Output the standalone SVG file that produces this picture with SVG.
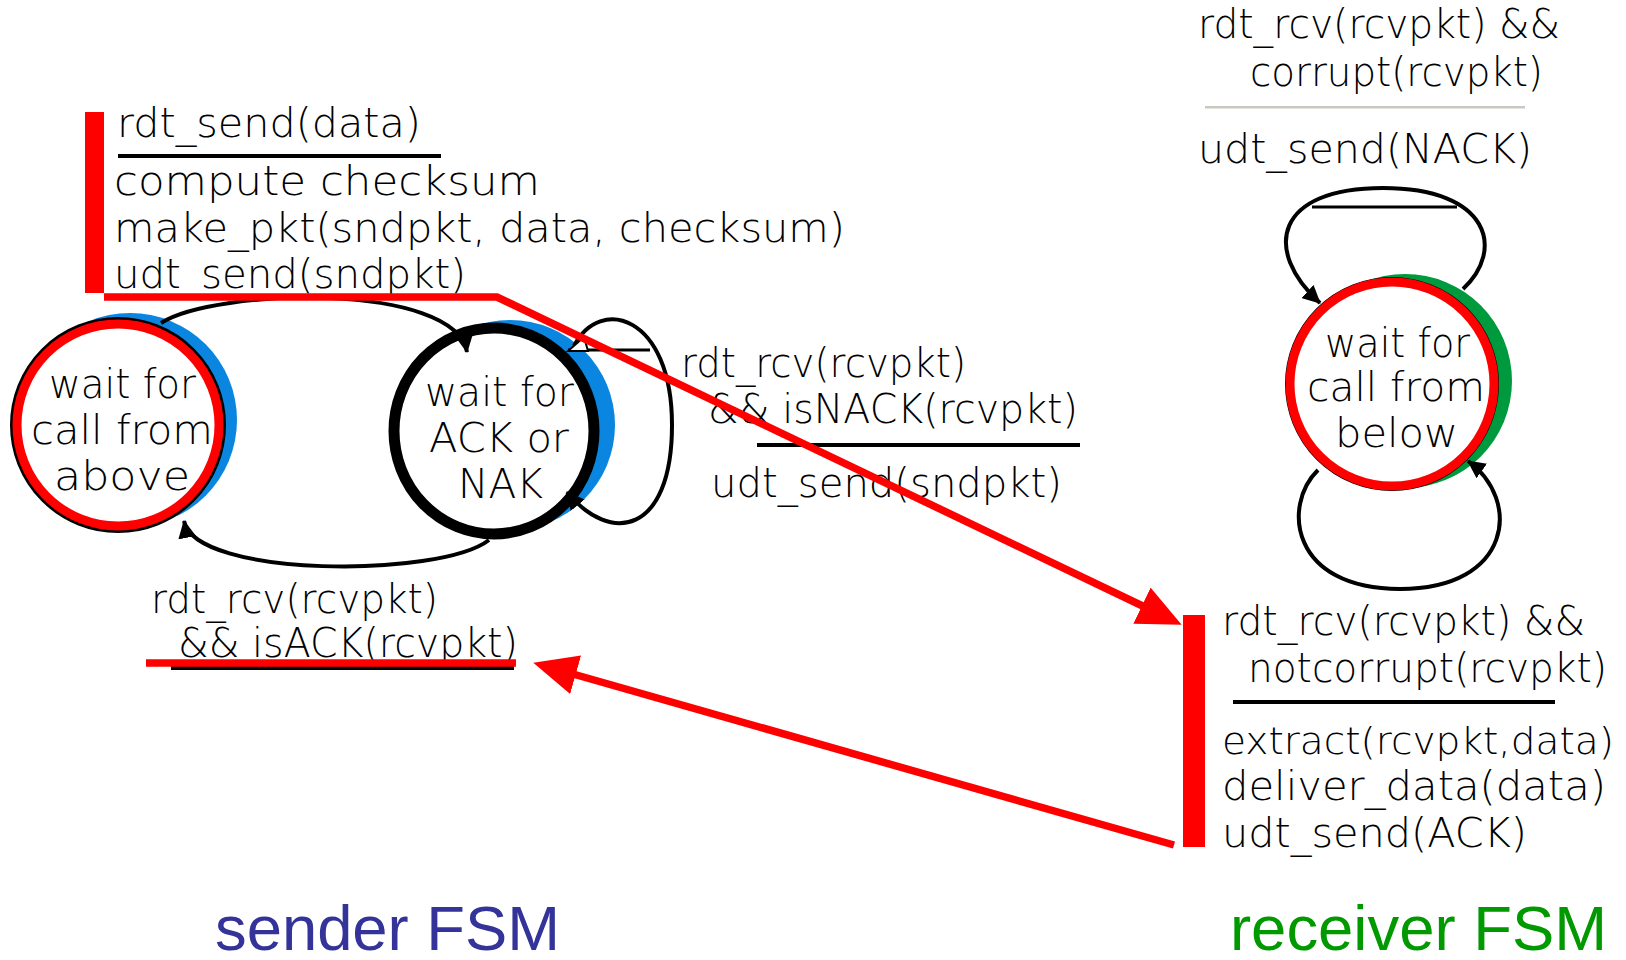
<svg xmlns="http://www.w3.org/2000/svg" width="1626" height="960" viewBox="0 0 1626 960">
<style>
.t{font-family:"DejaVu Sans","Liberation Sans",sans-serif;font-size:41px;font-weight:300;fill:#000}
.big{font-family:"Liberation Sans",Arial,sans-serif;font-size:63px}
.arc{fill:none;stroke:#000;stroke-width:4;marker-end:url(#ba)}
.red{fill:none;stroke:#f00;stroke-width:7.5;marker-end:url(#ra)}
.bar{fill:#000}
</style>
<defs>
<marker id="ba" markerUnits="userSpaceOnUse" markerWidth="18" markerHeight="18" viewBox="0 0 18 18" refX="17" refY="9" orient="auto"><path d="M0,0 L18,9 L0,18 z" fill="#000"/></marker>
<marker id="ra" markerUnits="userSpaceOnUse" markerWidth="44" markerHeight="40" viewBox="0 0 44 40" refX="10" refY="20" orient="auto"><path d="M0,0 L44,20 L0,40 z" fill="#f00"/></marker>
</defs>
<rect width="1626" height="960" fill="#fff"/>

<g id="state-wait-above">
<circle cx="130" cy="420" r="107" fill="#0a86e0"/>
<circle cx="118" cy="425" r="105" fill="#fff" stroke="#000" stroke-width="6"/>
<circle cx="118" cy="425" r="101" fill="none" stroke="#f00" stroke-width="9"/>
<text class="t" x="49" y="398" textLength="147" lengthAdjust="spacingAndGlyphs">wait for</text>
<text class="t" x="31" y="444" textLength="182" lengthAdjust="spacingAndGlyphs">call from</text>
<text class="t" x="54" y="490" textLength="136" lengthAdjust="spacingAndGlyphs">above</text>
</g>

<g id="state-wait-ack-nak">
<circle cx="510" cy="425" r="105" fill="#0a86e0"/>
<ellipse cx="494" cy="431" rx="100" ry="103" fill="#fff" stroke="#000" stroke-width="11"/>
<text class="t" x="425" y="406" textLength="149" lengthAdjust="spacingAndGlyphs">wait for</text>
<text class="t" x="429" y="452" textLength="140" lengthAdjust="spacingAndGlyphs">ACK or</text>
<text class="t" x="458" y="498" textLength="85" lengthAdjust="spacingAndGlyphs">NAK</text>
</g>

<g id="state-wait-below">
<circle cx="1405" cy="381" r="107" fill="#009a3e"/>
<circle cx="1392" cy="384" r="105" fill="#fff" stroke="#000" stroke-width="4"/>
<circle cx="1392" cy="384" r="102" fill="none" stroke="#f00" stroke-width="9"/>
<text class="t" x="1325" y="357" textLength="145" lengthAdjust="spacingAndGlyphs">wait for</text>
<text class="t" x="1307" y="401" textLength="178" lengthAdjust="spacingAndGlyphs">call from</text>
<text class="t" x="1335" y="447" textLength="123" lengthAdjust="spacingAndGlyphs">below</text>
</g>

<g id="label-send">
<text class="t" x="117" y="137" textLength="304" lengthAdjust="spacingAndGlyphs">rdt_send(data)</text>
<rect class="bar" x="118" y="154" width="323" height="4"/>
<text class="t" x="114" y="195" textLength="426" lengthAdjust="spacingAndGlyphs">compute checksum</text>
<text class="t" x="114" y="242" textLength="731" lengthAdjust="spacingAndGlyphs">make_pkt(sndpkt, data, checksum)</text>
<text class="t" x="114" y="288" textLength="352" lengthAdjust="spacingAndGlyphs">udt_send(sndpkt)</text>
</g>

<g id="label-nack">
<text class="t" x="681" y="377" textLength="285" lengthAdjust="spacingAndGlyphs">rdt_rcv(rcvpkt)</text>
<text class="t" x="708" y="423" textLength="370" lengthAdjust="spacingAndGlyphs">&amp;&amp; isNACK(rcvpkt)</text>
<rect class="bar" x="757" y="443" width="323" height="4"/>
<text class="t" x="711" y="497" textLength="351" lengthAdjust="spacingAndGlyphs">udt_send(sndpkt)</text>
</g>

<g id="label-ack">
<text class="t" x="151" y="613" textLength="287" lengthAdjust="spacingAndGlyphs">rdt_rcv(rcvpkt)</text>
<text class="t" x="178" y="657" textLength="340" lengthAdjust="spacingAndGlyphs">&amp;&amp; isACK(rcvpkt)</text>
<rect class="bar" x="171" y="666" width="343" height="4"/>
</g>

<g id="label-corrupt">
<text class="t" x="1198" y="38" textLength="362" lengthAdjust="spacingAndGlyphs">rdt_rcv(rcvpkt) &amp;&amp;</text>
<text class="t" x="1250" y="86" textLength="293" lengthAdjust="spacingAndGlyphs">corrupt(rcvpkt)</text>
<rect x="1205" y="106" width="320" height="2.5" fill="#cbc8c0"/>
<text class="t" x="1198" y="163" textLength="334" lengthAdjust="spacingAndGlyphs">udt_send(NACK)</text>
</g>

<g id="label-notcorrupt">
<text class="t" x="1222" y="635" textLength="363" lengthAdjust="spacingAndGlyphs">rdt_rcv(rcvpkt) &amp;&amp;</text>
<text class="t" x="1248" y="682" textLength="359" lengthAdjust="spacingAndGlyphs">notcorrupt(rcvpkt)</text>
<rect class="bar" x="1233" y="700" width="322" height="4"/>
<text class="t" x="1222" y="754" style="font-size:38px" textLength="392" lengthAdjust="spacingAndGlyphs">extract(rcvpkt,data)</text>
<text class="t" x="1222" y="800" textLength="384" lengthAdjust="spacingAndGlyphs">deliver_data(data)</text>
<text class="t" x="1222" y="847" textLength="305" lengthAdjust="spacingAndGlyphs">udt_send(ACK)</text>
</g>

<g id="titles">
<text class="big" x="215" y="950" fill="#333399" textLength="345" lengthAdjust="spacingAndGlyphs">sender FSM</text>
<text class="big" x="1230" y="950" fill="#009900" textLength="377" lengthAdjust="spacingAndGlyphs">receiver FSM</text>
</g>

<g id="connectors">
<path class="arc" d="M161,323 C215,288 455,282 467,352"/>
<path class="arc" d="M489,540 C440,578 195,578 184,521"/>
<path class="arc" d="M574,346 C600,295 672,315 672,425 C672,535 610,545 567,492"/>
<line x1="568" y1="350" x2="650" y2="350" stroke="#000" stroke-width="3"/>
<polygon points="568,351 584,337 588,351" fill="#fff" stroke="#000" stroke-width="2"/>
<path class="arc" d="M1463,289 C1505,250 1490,188 1383,188 C1275,188 1262,250 1320,303"/>
<line x1="1312" y1="207" x2="1457" y2="207" stroke="#000" stroke-width="3"/>
<path class="arc" d="M1318,470 C1282,505 1290,589 1400,589 C1512,589 1522,500 1468,461"/>
<path class="red" d="M104,297 L497,297 L1151,610"/>
<path class="red" d="M1174,845 L566,672"/>
</g>

<g id="highlights">
<rect x="85" y="112" width="19" height="181" fill="#f00"/>
<rect x="1183" y="615" width="22" height="232" fill="#f00"/>
<line x1="146" y1="663" x2="516" y2="663" stroke="#f00" stroke-width="7.5"/>
</g>
</svg>
